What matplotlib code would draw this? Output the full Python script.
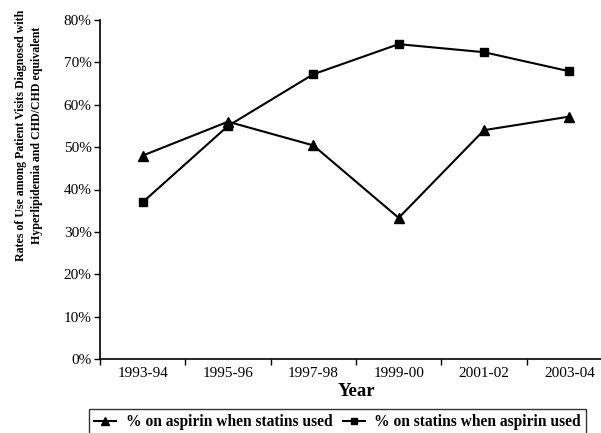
import matplotlib
matplotlib.use("Agg")
import matplotlib.pyplot as plt
from matplotlib.ticker import FixedLocator, FuncFormatter

plt.rcParams['font.family'] = ['Liberation Serif', 'DejaVu Serif']

years = ["1993-94", "1995-96", "1997-98", "1999-00", "2001-02", "2003-04"]
aspirin_when_statins = [48.0, 56.0, 50.4, 33.3, 54.0, 57.2]
statins_when_aspirin = [37.0, 55.0, 67.2, 74.3, 72.4, 67.9]
series_labels = ["% on aspirin when statins used", "% on statins when aspirin used"]

W, H = 601, 433
fig = plt.figure(figsize=(W / 100, H / 100), dpi=100)
ax = fig.add_axes([100 / W, 1 - 359 / H, 512 / W, 339 / H])

x = list(range(len(years)))
ax.plot(x, aspirin_when_statins, color='black', lw=1.5, marker='^', ms=6.5,
        label=series_labels[0], clip_on=False)
ax.plot(x, statins_when_aspirin, color='black', lw=1.5, marker='s', ms=6,
        label=series_labels[1], clip_on=False)

ax.set_xlim(-0.5, len(years) - 0.5)
ax.set_ylim(0, 80)
ax.xaxis.set_major_locator(FixedLocator([i - 0.5 for i in range(len(years) + 1)]))
ax.xaxis.set_major_formatter(FuncFormatter(lambda v, p: ""))
ax.xaxis.set_minor_locator(FixedLocator(x))
ax.set_xticklabels(years, minor=True)
ax.tick_params(axis='x', which='minor', length=0, labelsize=11, pad=6)
ax.tick_params(axis='x', which='major', length=4, width=1)
ax.set_yticks(range(0, 81, 10))
ax.yaxis.set_major_formatter(FuncFormatter(lambda v, p: f"{int(v)}%"))
ax.tick_params(axis='y', length=4, width=1, labelsize=11, pad=2)
for s in ['top', 'right']:
    ax.spines[s].set_visible(False)
for s in ['left', 'bottom']:
    ax.spines[s].set_linewidth(1.2)

ax.set_xlabel("Year", fontsize=13.5, fontweight='bold', labelpad=2)
fig.text(29 / W, 1 - 135 / H,
         "Rates of Use among Patient Visits Diagnosed with\nHyperlipidemia and CHD/CHD equivalent",
         rotation=90, ha='center', va='center', multialignment='center',
         fontsize=8.6, fontweight='bold', linespacing=1.5)

leg = fig.legend(loc='upper left', bbox_to_anchor=(89 / W, 1 - 409 / H), ncol=2,
                 frameon=True, fancybox=False, edgecolor='black',
                 prop={'weight': 'bold', 'size': 11.2}, handlelength=1.4, handletextpad=0.6,
                 columnspacing=0.7, borderaxespad=0, borderpad=0.35, markerscale=0.8)
leg.get_frame().set_linewidth(1.0)

fig.savefig("out.png", dpi=100)
